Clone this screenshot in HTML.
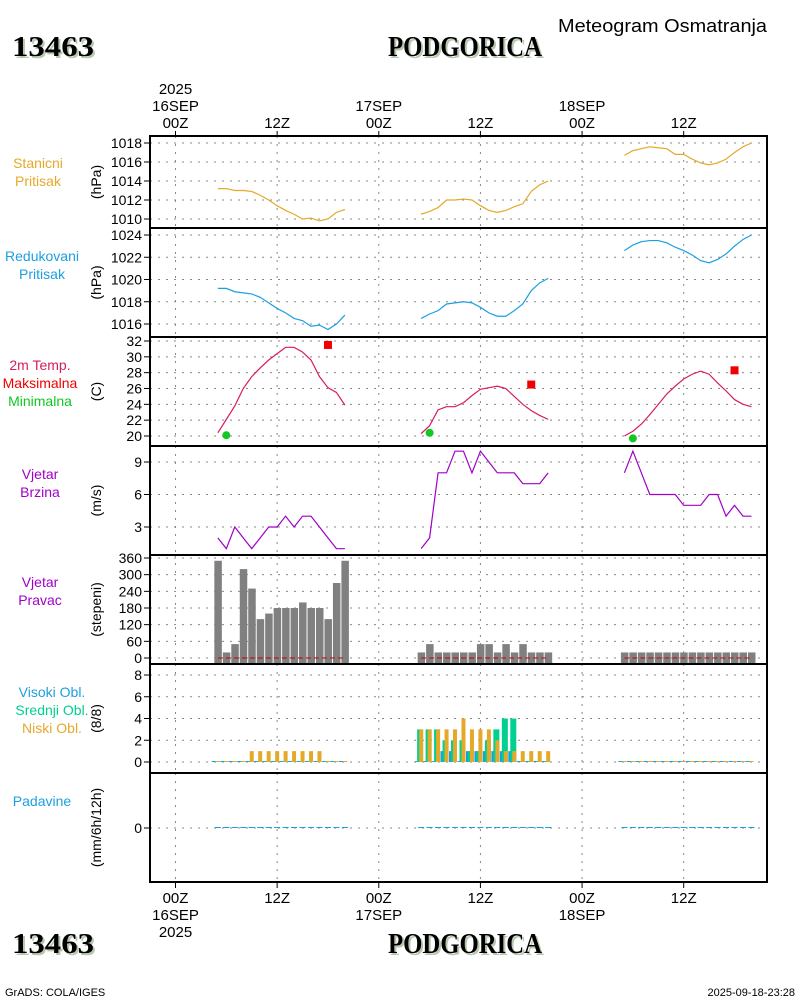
<!DOCTYPE html>
<html><head><meta charset="utf-8"><style>
body{margin:0;background:#fff}
svg text{font-family:"Liberation Sans",sans-serif}
svg text.ttl{font-family:"Liberation Serif",serif;font-weight:bold}
</style></head><body>
<svg id="c" width="800" height="1000" viewBox="0 0 800 1000" xmlns="http://www.w3.org/2000/svg">
<rect width="800" height="1000" fill="#fff"/>
<g>
<text class="ttl" x="14" y="58" font-size="29" fill="#b8c8b0" textLength="82" lengthAdjust="spacingAndGlyphs">13463</text>
<text class="ttl" x="12" y="56" font-size="29" fill="#000" textLength="82" lengthAdjust="spacingAndGlyphs">13463</text>
<text class="ttl" x="390" y="58" font-size="29" fill="#b8c8b0" textLength="154" lengthAdjust="spacingAndGlyphs">PODGORICA</text>
<text class="ttl" x="388" y="56" font-size="29" fill="#000" textLength="154" lengthAdjust="spacingAndGlyphs">PODGORICA</text>
<text x="558" y="32" font-size="18" fill="#000" textLength="209" lengthAdjust="spacingAndGlyphs">Meteogram Osmatranja</text>
</g>
<g>
<text class="ttl" x="14" y="955" font-size="29" fill="#b8c8b0" textLength="82" lengthAdjust="spacingAndGlyphs">13463</text>
<text class="ttl" x="12" y="953" font-size="29" fill="#000" textLength="82" lengthAdjust="spacingAndGlyphs">13463</text>
<text class="ttl" x="390" y="955" font-size="29" fill="#b8c8b0" textLength="154" lengthAdjust="spacingAndGlyphs">PODGORICA</text>
<text class="ttl" x="388" y="953" font-size="29" fill="#000" textLength="154" lengthAdjust="spacingAndGlyphs">PODGORICA</text>
<text x="5" y="996" font-size="11" fill="#000">GrADS: COLA/IGES</text>
<text x="795" y="996" font-size="11" fill="#000" text-anchor="end">2025-09-18-23:28</text>
</g>
<g id="plot"></g>
</svg>
<script>
const segStarts=[5,29,53];
const stanP=[[1013.2,1013.2,1013.0,1013.0,1012.9,1012.5,1012.0,1011.4,1010.9,1010.5,1010.0,1010.1,1009.8,1010.0,1010.7,1011.0],
[1010.5,1010.8,1011.2,1012.0,1012.0,1012.1,1012.0,1011.4,1010.9,1010.7,1010.9,1011.3,1011.6,1012.9,1013.6,1014.0],
[1016.7,1017.2,1017.4,1017.6,1017.5,1017.4,1016.8,1016.8,1016.3,1015.9,1015.7,1015.9,1016.3,1017.0,1017.6,1018.0]];
const redP=[[1019.2,1019.2,1018.9,1018.8,1018.7,1018.4,1017.9,1017.4,1017.0,1016.5,1016.3,1015.8,1015.9,1015.5,1016.0,1016.8],
[1016.5,1016.9,1017.2,1017.8,1017.9,1018.0,1017.9,1017.5,1017.0,1016.7,1016.7,1017.2,1017.8,1019.0,1019.7,1020.1],
[1022.6,1023.1,1023.4,1023.5,1023.5,1023.3,1022.9,1022.6,1022.2,1021.7,1021.5,1021.8,1022.3,1023.0,1023.6,1024.0]];
const temp=[[20.4,22.1,23.8,26.0,27.5,28.6,29.6,30.4,31.2,31.2,30.6,29.6,27.5,26.1,25.5,23.9],
[20.3,21.3,23.3,23.7,23.7,24.2,25.1,25.9,26.1,26.3,26.0,25.0,24.0,23.2,22.6,22.1],
[20.0,20.6,21.5,22.7,24.0,25.3,26.3,27.2,27.8,28.2,27.8,26.7,25.7,24.6,24.0,23.7]];
const tMaxHour=[18,42,66], tMaxVal=[31.5,26.5,28.3];
const tMinHour=[6,30,54], tMinVal=[20.1,20.4,19.7];
const windSpd=[[2,1,3,2,1,2,3,3,4,3,4,4,3,2,1,1],[1,2,8,8,10,10,8,10,9,8,8,8,7,7,7,8],[8,10,8,6,6,6,6,5,5,5,6,6,4,5,4,4]];
const windDir=[[350,20,50,320,250,140,160,180,180,180,200,180,180,140,270,350],
[20,50,20,20,20,20,20,50,50,20,50,20,50,20,20,20],
[20,20,20,20,20,20,20,20,20,20,20,20,20,20,20,20]];
const cloudLow=[[0,0,0,0,1,1,1,1,1,1,1,1,1,0,0,0],[3,3,3,3,3,4,3,3,3,2,1,1,1,1,1,1],[0,0,0,0,0,0,0,0,0,0,0,0,0,0,0,0]];
const cloudMid=[[0,0,0,0,0,0,0,0,0,0,0,0,0,0,0,0],[3,3,3,2,2,2,1,1,2,3,4,4,0,0,0,0],[0,0,0,0,0,0,0,0,0,0,0,0,0,0,0,0]];
const cloudHigh=[[0,0,0,0,0,0,0,0,0,0,0,0,0,0,0,0],[0,0,0,1,1,0,1,1,1,1,1,1,0,0,0,0],[0,0,0,0,0,0,0,0,0,0,0,0,0,0,0,0]];
const precip=[[0,0,0,0,0,0,0,0,0,0,0,0,0,0,0,0],[0,0,0,0,0,0,0,0,0,0,0,0,0,0,0,0],[0,0,0,0,0,0,0,0,0,0,0,0,0,0,0,0]];

const NS='http://www.w3.org/2000/svg';
const plot=document.getElementById('plot');
function mk(tag,attrs,parent){const e=document.createElementNS(NS,tag);for(const k in attrs)e.setAttribute(k,attrs[k]);(parent||plot).appendChild(e);return e;}
const X0=150,X1=767;
function xh(h){return 175.5+h*8.47;}
function lin(v0,y0,v1,y1){return v=>y0+(v-v0)*(y1-y0)/(v1-v0);}
const panels=[
 {top:136,bot:228,ticks:[1010,1012,1014,1016,1018],y:lin(1010,219,1018,143),unit:'(hPa)',name:'stanicni'},
 {top:228,bot:337,ticks:[1016,1018,1020,1022,1024],y:lin(1016,324,1024,235),unit:'(hPa)',name:'redukovani'},
 {top:337,bot:446,ticks:[20,22,24,26,28,30,32],y:lin(20,436,32,341),unit:'(C)',name:'temperatura'},
 {top:446,bot:555,ticks:[3,6,9],y:lin(3,527,9,462),unit:'(m/s)',name:'brzina'},
 {top:555,bot:664,ticks:[0,60,120,180,240,300,360],y:lin(0,658,360,558),unit:'(stepeni)',name:'pravac'},
 {top:664,bot:773,ticks:[0,2,4,6,8],y:lin(0,762,8,675),unit:'(8/8)',name:'oblacnost'},
 {top:773,bot:882,ticks:[0],y:lin(0,828,1,818),unit:'(mm/6h/12h)',name:'padavine'}];
const gridHours=[0,12,24,36,48,60];
panels.forEach(p=>{
 const g=mk('g',{});
 
 
 gridHours.forEach(h=>{const l=mk('line',{x1:xh(h),x2:xh(h),y1:p.top,y2:p.bot,stroke:'#888','stroke-dasharray':'2,6'},g);});
 p.ticks.forEach(t=>{const y=p.y(t);
  mk('line',{x1:X0,x2:X1,y1:y,y2:y,stroke:'#888','stroke-dasharray':'2,6'},g);
  mk('line',{x1:144,x2:X0,y1:y,y2:y,stroke:'#000'},g);
  const tx=mk('text',{x:142,y:y+5,'font-size':14,'text-anchor':'end',fill:'#000'},g);tx.textContent=t;
  
  
 });
 const cy=(p.top+p.bot)/2;
 const u=mk('text',{x:0,y:0,'font-size':14,'text-anchor':'middle',fill:'#000',transform:`translate(101,${cy}) rotate(-90)`},g);u.textContent=p.unit;
 
 
});
function series(arr,yf,color,name){
 arr.forEach((seg,i)=>{const pts=seg.map((v,k)=>xh(segStarts[i]+k)+','+yf(v)).join(' ');
  const l=mk('polyline',{points:pts,fill:'none',stroke:color,'stroke-width':1.2});
  
  });
}
series(stanP,panels[0].y,'#e6a829','station-pressure');
series(redP,panels[1].y,'#1c9fe0','reduced-pressure');
series(temp,panels[2].y,'#d81c5c','temperature');
series(windSpd,panels[3].y,'#a000c8','wind-speed');
tMaxHour.forEach((h,i)=>{const r=mk('rect',{x:xh(h)-4,y:panels[2].y(tMaxVal[i])-4,width:8,height:8,fill:'#f00000'});
 
 });
tMinHour.forEach((h,i)=>{const c=mk('circle',{cx:xh(h),cy:panels[2].y(tMinVal[i]),r:4,fill:'#10c820'});
 
 });
windDir.forEach((seg,i)=>{seg.forEach((v,k)=>{const x=xh(segStarts[i]+k);const y=panels[4].y(v);
 const r=mk('rect',{x:x-3.5,y:y,width:7.5,height:664-y,fill:'#808080'});
 
 });
 const l=mk('line',{x1:xh(segStarts[i]),x2:xh(segStarts[i]+15),y1:658,y2:658,stroke:'#c00000','stroke-dasharray':'5,3'});
 
 });
function bars(arr,off,w,color,name,yf,base){arr.forEach((seg,i)=>seg.forEach((v,k)=>{const x=xh(segStarts[i]+k)+off;const y=yf(v);
 const r=mk('rect',{x:x,y:Math.min(y,base-1),width:w,height:Math.max(base-y,1),fill:color});
 
 }));}
const cy0=panels[5].y(0);
bars(cloudHigh,-6,4,'#1c9fe0','high-cloud-bar',panels[5].y,cy0);
bars(cloudMid,-4,6,'#00d090','mid-cloud-bar',panels[5].y,cy0);
bars(cloudLow,-2,4,'#e6a829','low-cloud-bar',panels[5].y,cy0);
bars(precip,-3,6,'#1c9fe0','precip-bar',panels[6].y,panels[6].y(0));
panels.forEach(p=>{mk('rect',{x:X0,y:p.top,width:X1-X0,height:p.bot-p.top,fill:'none',stroke:'#000','stroke-width':2});});
const topLab=[[0,['2025','16SEP','00Z']],[12,['12Z']],[24,['17SEP','00Z']],[36,['12Z']],[48,['18SEP','00Z']],[60,['12Z']]];
topLab.forEach(([h,ls])=>{ls.forEach((s,j)=>{const t=mk('text',{x:xh(h),y:128-(ls.length-1-j)*17,'font-size':15,'text-anchor':'middle',fill:'#000'});t.textContent=s;
 
 });
 mk('line',{x1:xh(h),x2:xh(h),y1:131,y2:136,stroke:'#000'});});
const botLab=[[0,['00Z','16SEP','2025']],[12,['12Z']],[24,['00Z','17SEP']],[36,['12Z']],[48,['00Z','18SEP']],[60,['12Z']]];
botLab.forEach(([h,ls])=>{ls.forEach((s,j)=>{const t=mk('text',{x:xh(h),y:903+j*17,'font-size':15,'text-anchor':'middle',fill:'#000'});t.textContent=s;
 
 });
 mk('line',{x1:xh(h),x2:xh(h),y1:882,y2:888,stroke:'#000'});});
const leftLab=[[['Stanicni','#e6a829'],['Pritisak','#e6a829'],168,38],[['Redukovani','#1c9fe0'],['Pritisak','#1c9fe0'],261,42],
[['2m Temp.','#d81c5c'],['Maksimalna','#f00000'],['Minimalna','#10c820'],370,40],[['Vjetar','#a000c8'],['Brzina','#a000c8'],479,40],
[['Vjetar','#a000c8'],['Pravac','#a000c8'],587,40],[['Visoki Obl.','#1c9fe0'],['Srednji Obl.','#00d090'],['Niski Obl.','#e6a829'],697,52],[['Padavine','#1c9fe0'],806,42]];
leftLab.forEach(arr=>{const cx=arr[arr.length-1];const y0=arr[arr.length-2];const items=arr.slice(0,-2);
 items.forEach(([s,c],j)=>{const t=mk('text',{x:cx,y:y0+j*18,'font-size':14,'text-anchor':'middle',fill:c});t.textContent=s;
 
 });});
</script>
</body></html>
